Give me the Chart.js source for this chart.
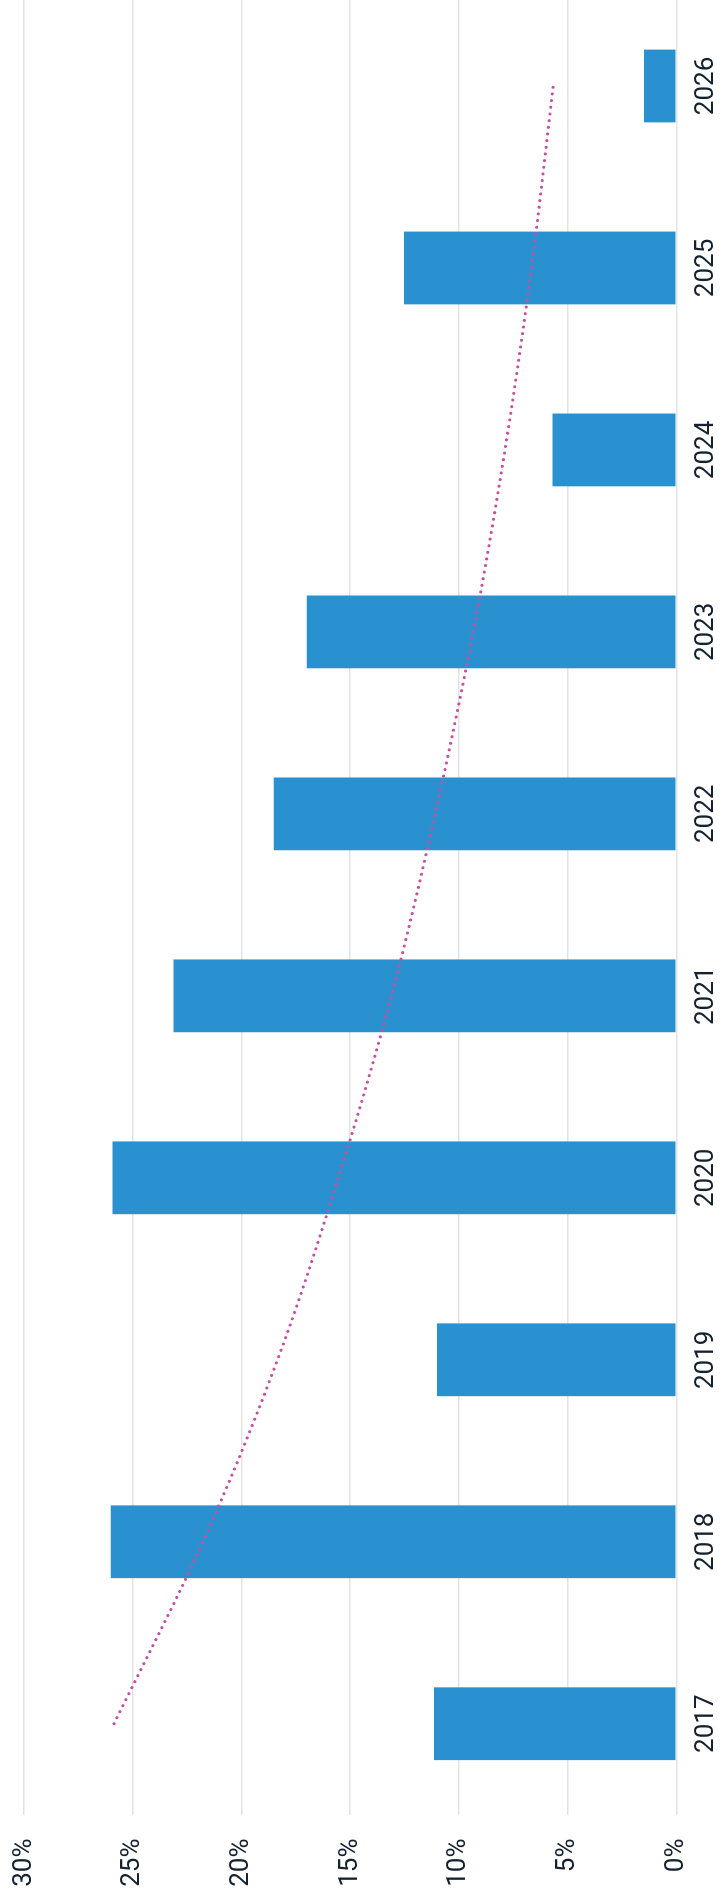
<!DOCTYPE html>
<html>
<head>
<meta charset="utf-8">
<script src="https://cdn.jsdelivr.net/npm/chart.js@4"></script>
<style>
  html, body { margin: 0; padding: 0; background: #ffffff; }
  body { width: 722px; height: 1900px; overflow: hidden; position: relative; }
  #wrap {
    position: absolute; left: 0; top: 0;
    width: 1905px; height: 722px;
    transform-origin: 0 0;
    transform: translate(0px, 1900px) rotate(-90deg);
  }
  canvas { display: block; }
</style>
</head>
<body>
<div id="wrap"><canvas id="c" width="1905" height="722"></canvas></div>
<script>
const years = ['2017', '2018', '2019', '2020', '2021', '2022', '2023', '2024', '2025', '2026'];
const growth = [11.14, 26.01, 11.0, 25.93, 23.12, 18.51, 17.0, 5.69, 12.52, 1.48];
const trend = [25.86, 21.77, 18.34, 15.54, 13.1, 11.09, 9.34, 7.88, 6.66, 5.66];
const valueTicks = [0, 5, 10, 15, 20, 25, 30];

const FONT = 'Roboto, "Liberation Sans", Arial, sans-serif';
const TEXT = '#14212e';

new Chart(document.getElementById('c'), {
  data: {
    labels: years,
    datasets: [
      {
        type: 'line',
        data: trend,
        borderColor: '#c4509e',
        borderWidth: 3.1,
        borderDash: [0.01, 6.7],
        borderCapStyle: 'round',
        pointRadius: 0,
        fill: false,
        cubicInterpolationMode: 'monotone',
        order: 0
      },
      {
        type: 'bar',
        data: growth,
        backgroundColor: '#2a91d0',
        borderWidth: 0,
        barPercentage: 0.4,
        categoryPercentage: 1.0,
        order: 1
      }
    ]
  },
  options: {
    responsive: false,
    animation: false,
    devicePixelRatio: 1,
    layout: { padding: { top: 24, right: 0, bottom: 0, left: 0 } },
    plugins: { legend: { display: false }, tooltip: { enabled: false }, title: { display: false } },
    scales: {
      x: {
        position: 'bottom',
        grid: { display: false, drawTicks: false },
        border: { display: false },
        ticks: {
          color: TEXT,
          font: { family: FONT, size: 26 },
          padding: 15,
          maxRotation: 0,
          minRotation: 0
        },
        afterFit: (s) => { s.height = 45.7; s.paddingLeft = 0; s.paddingRight = 0; }
      },
      y: {
        position: 'left',
        min: 0,
        max: 30,
        afterBuildTicks: (s) => { s.ticks = valueTicks.map(v => ({ value: v })); },
        grid: { color: '#e3e3e3', lineWidth: 1.5, drawTicks: false },
        border: { display: false },
        ticks: {
          color: TEXT,
          font: { family: FONT, size: 26 },
          padding: 23.8,
          callback: (v) => v + '%'
        },
        afterFit: (s) => { s.width = 85.3; s.paddingTop = 0; s.paddingBottom = 0; }
      }
    }
  }
});
</script>
</body>
</html>
